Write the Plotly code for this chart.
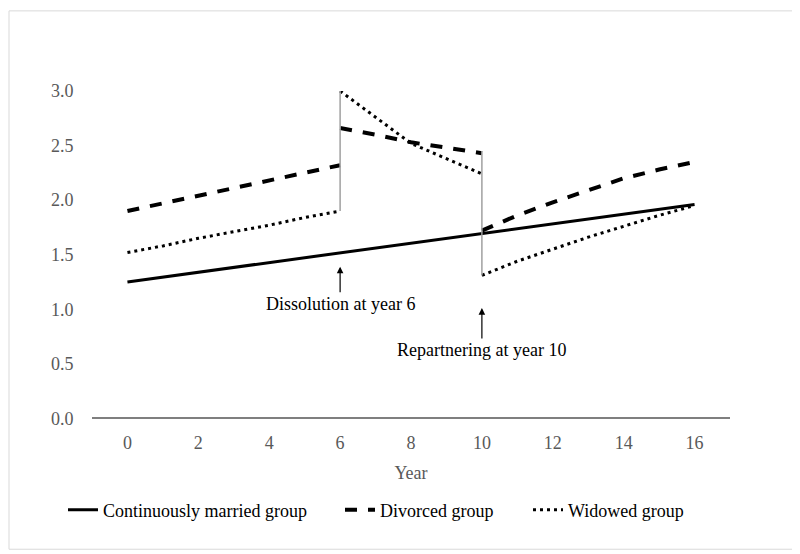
import plotly.graph_objects as go

# ---- data ----
years_all = list(range(0, 17))
years_pre = [0, 1, 2, 3, 4, 5, 6]
years_mid = [6, 7, 8, 9, 10]
years_post = [10, 11, 12, 13, 14, 15, 16]

married = [1.250, 1.294, 1.339, 1.383, 1.428, 1.472, 1.516, 1.561, 1.605,
           1.649, 1.694, 1.738, 1.783, 1.827, 1.871, 1.916, 1.960]

divorced_pre = [1.90, 1.97, 2.04, 2.11, 2.18, 2.25, 2.32]
divorced_mid = [2.66, 2.60, 2.53, 2.48, 2.43]
divorced_post = [1.72, 1.86, 1.98, 2.09, 2.20, 2.28, 2.35]

widowed_pre = [1.52, 1.58, 1.65, 1.71, 1.77, 1.84, 1.90]
widowed_mid = [3.00, 2.76, 2.52, 2.38, 2.24]
widowed_post = [1.31, 1.44, 1.55, 1.66, 1.76, 1.86, 1.95]

event_years = [6, 10]
event_low = [1.90, 1.31]
event_high = [3.00, 2.45]
event_labels = ["Dissolution at year 6", "Repartnering at year 10"]

series_names = ["Continuously married group", "Divorced group", "Widowed group"]
x_ticks = [0, 2, 4, 6, 8, 10, 12, 14, 16]
y_ticks = [0.0, 0.5, 1.0, 1.5, 2.0, 2.5, 3.0]

# ---- layout constants ----
W, H = 800, 554
ML, MR, MT, MB = 84, 78, 83, 136
FONT = "Liberation Serif"
FS = 18
GRAY_TXT = "#595959"


def joined(xs_list, ys_list):
    xs, ys = [], []
    for i, (xa, ya) in enumerate(zip(xs_list, ys_list)):
        if i:
            xs.append(None)
            ys.append(None)
        xs += list(xa)
        ys += list(ya)
    return xs, ys


fig = go.Figure()

fig.add_trace(go.Scatter(
    x=years_all, y=married, mode="lines", name=series_names[0],
    line=dict(color="black", width=3), legend="legend"))

dx, dy = joined([years_pre, years_mid, years_post],
                [divorced_pre, divorced_mid, divorced_post])
fig.add_trace(go.Scatter(
    x=dx, y=dy, mode="lines", name=series_names[1], connectgaps=False,
    line=dict(color="black", width=4, dash="12px,11px"), legend="legend2"))

wx, wy = joined([years_pre, years_mid, years_post],
                [widowed_pre, widowed_mid, widowed_post])
fig.add_trace(go.Scatter(
    x=wx, y=wy, mode="lines", name=series_names[2], connectgaps=False,
    line=dict(color="black", width=3, dash="3px,4px"), legend="legend3"))

for yr, lo, hi in zip(event_years, event_low, event_high):
    fig.add_trace(go.Scatter(
        x=[yr, yr], y=[lo, hi], mode="lines", showlegend=False,
        line=dict(color="#a0a0a0", width=1.5), hoverinfo="skip"))

# annotations with arrows
arrow_tip = [1.39, 1.01]
arrow_len = [37, 42]
for yr, tip, alen, label in zip(event_years, arrow_tip, arrow_len, event_labels):
    fig.add_annotation(
        x=yr, y=tip, xref="x", yref="y", text=label, showarrow=True,
        ax=0, ay=alen, axref="pixel", ayref="pixel",
        arrowhead=2, arrowsize=1.1, arrowwidth=1.2, arrowcolor="black",
        font=dict(family=FONT, size=FS, color="black"))

# chart-area border
pw = W - ML - MR
ph = H - MT - MB
fig.add_shape(type="rect", xref="paper", yref="paper",
              x0=(1 - ML) / pw, x1=(W - 2 - ML) / pw,
              y0=(ph - (H - 2 - MT)) / ph,
              y1=(ph + MT - 1) / ph,
              line=dict(color="#d9d9d9", width=1))

legend_common = dict(
    orientation="h", xref="container", yref="container",
    yanchor="middle", y=1 - 502 / H, xanchor="left",
    font=dict(family=FONT, size=FS, color="black"),
    bgcolor="rgba(0,0,0,0)", borderwidth=0, tracegroupgap=0,
    itemwidth=30,
)
fig.update_layout(
    width=W, height=H,
    margin=dict(l=ML, r=MR, t=MT, b=MB),
    plot_bgcolor="white", paper_bgcolor="white",
    font=dict(family=FONT, size=FS, color=GRAY_TXT),
    legend=dict(legend_common, x=55 / W),
    legend2=dict(legend_common, x=332 / W),
    legend3=dict(legend_common, x=520 / W),
    xaxis=dict(range=[-1, 17], tickvals=x_ticks, ticktext=[str(t) for t in x_ticks],
               showgrid=False, zeroline=False, showline=False,
               ticks="outside", ticklen=8, tickcolor="rgba(0,0,0,0)",
               tickfont=dict(family=FONT, size=FS, color=GRAY_TXT),
               title=dict(text="Year", standoff=14,
                          font=dict(family=FONT, size=FS, color=GRAY_TXT))),
    yaxis=dict(range=[0, 3.0], tickvals=y_ticks,
               ticktext=[f"{v:.1f}" for v in y_ticks],
               showgrid=False, zeroline=True, zerolinecolor="#7f7f7f",
               zerolinewidth=1.5, showline=False,
               ticks="outside", ticklen=14, tickcolor="rgba(0,0,0,0)",
               tickfont=dict(family=FONT, size=FS, color=GRAY_TXT)),
)

fig.write_html("out.html")
